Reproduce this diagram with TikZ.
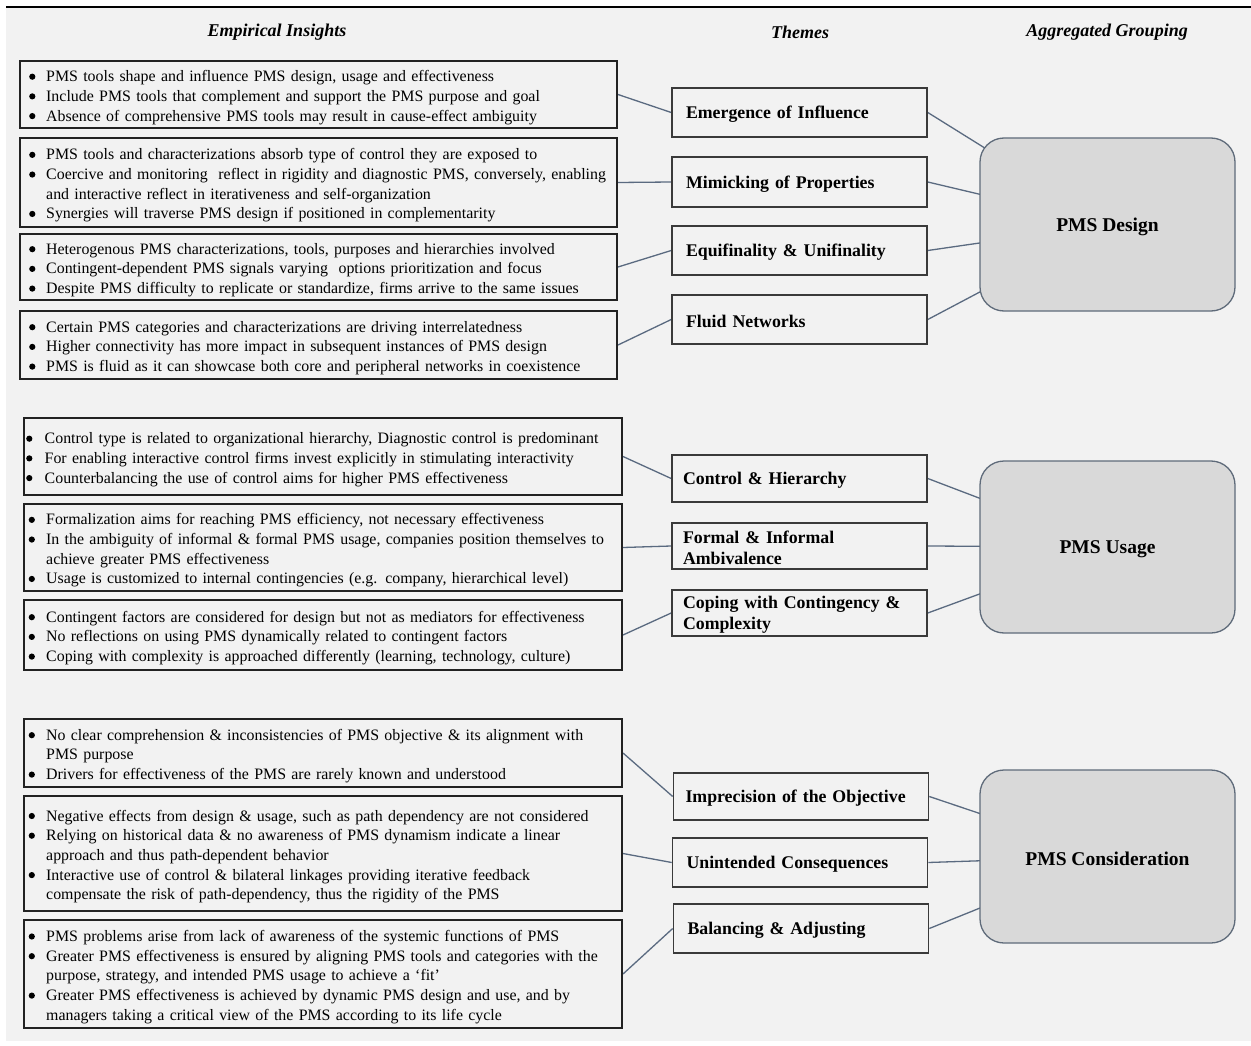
\documentclass[tikz,border=0pt]{standalone}
\usepackage{fontspec}
\setmainfont{Liberation Serif}

\definecolor{paper}{HTML}{F2F2F2}
\definecolor{groupfill}{HTML}{D9D9D9}
\definecolor{groupedge}{HTML}{5F6B7A}
\definecolor{linkcol}{HTML}{5A6A80}
\definecolor{themeedge}{HTML}{3A3A3A}
\definecolor{insightedge}{HTML}{222222}

\pgfdeclarelayer{paperlayer}
\pgfdeclarelayer{linklayer}
\pgfsetlayers{paperlayer,linklayer,main}

% bullet column width and bullet/continuation lines
\newlength\bw
\newcommand\bigdot{\tikz[x=1pt,y=1pt,baseline={(0pt,-5pt)}]\fill[black] (3.2pt,0pt) circle (3.1pt);}
\newcommand\bpt[1]{\par\noindent\strut\makebox[\bw][l]{\bigdot}#1}
\newcommand\cpt[1]{\par\noindent\strut\hspace*{\bw}#1}

\tikzset{
  insightbox/.style={draw=insightedge, line width=2pt, minimum width=597pt, inner sep=0pt},
  insightboxb/.style={draw=insightedge, line width=2pt, minimum width=598pt, inner sep=0pt},
  insighttext/.style={anchor=west, inner sep=0pt, text width=640pt, align=left,
    font=\fontsize{15.9}{19.7}\selectfont},
  themebox/.style={draw=themeedge, line width=1.6pt, minimum width=255pt,
    inner xsep=#1, inner ysep=0pt, text width=255pt-2*#1, align=left,
    font=\bfseries\fontsize{17.8}{20.8}\selectfont,
    execute at begin node={\rule{0pt}{16pt}}},
  themebox/.default=14pt,
  groupbox/.style={draw=groupedge, fill=groupfill, line width=1.3pt,
    rounded corners=24pt, minimum width=255pt, minimum height=173pt,
    font=\bfseries\fontsize{19.5}{22}\selectfont,
    execute at begin node={\rule{0pt}{18pt}}},
  hdr/.style={font=\bfseries\itshape\fontsize{18}{20}\selectfont, inner sep=0pt},
  link/.style={draw=linkcol, line width=1.3pt},
}

\begin{document}
\begin{tikzpicture}[x=1pt,y=-1pt]
\useasboundingbox (0,0) rectangle (1251,1046);

\begin{pgfonlayer}{paperlayer}
  \fill[paper] (6,8) rectangle (1251,1041);
  \draw[line width=2pt, black] (6,7) -- (1251,7);
\end{pgfonlayer}

% column headings
\node[hdr] (h1) at (277,32) {Empirical Insights};
\node[hdr] (h2) at (800,32) {Themes};
\node[hdr] (h3) at (1107,32) {Aggregated Grouping};

% ---------------- PMS Design ----------------
\node[insightbox, minimum height=67pt] (b1) at (318.5,94.5) {};
\node[insighttext] (b1t) at ([xshift=10pt]b1.west) {\setlength\bw{17pt}%
  \bpt{PMS tools shape and influence PMS design, usage and effectiveness}
  \bpt{Include PMS tools that complement and support the PMS purpose and goal}
  \bpt{Absence of comprehensive PMS tools may result in cause-effect ambiguity}};

\node[insightbox, minimum height=89pt] (b2) at (318.5,182.5) {};
\node[insighttext] (b2t) at ([xshift=10pt]b2.west) {\setlength\bw{17pt}%
  \bpt{PMS tools and characterizations absorb type of control they are exposed to}
  \bpt{Coercive and monitoring\ \ reflect in rigidity and diagnostic PMS, conversely, enabling}
  \cpt{and interactive reflect in iterativeness and self-organization}
  \bpt{Synergies will traverse PMS design if positioned in complementarity}};

\node[insightbox, minimum height=66pt] (b3) at (318.5,267) {};
\node[insighttext] (b3t) at ([xshift=10pt]b3.west) {\setlength\bw{17pt}%
  \bpt{Heterogenous PMS characterizations, tools, purposes and hierarchies involved}
  \bpt{Contingent-dependent PMS signals varying\ \ options prioritization and focus}
  \bpt{Despite PMS difficulty to replicate or standardize, firms arrive to the same issues}};

\node[insightbox, minimum height=68pt] (b4) at (318.5,345) {};
\node[insighttext] (b4t) at ([xshift=10pt]b4.west) {\setlength\bw{17pt}%
  \bpt{Certain PMS categories and characterizations are driving interrelatedness}
  \bpt{Higher connectivity has more impact in subsequent instances of PMS design}
  \bpt{PMS is fluid as it can showcase both core and peripheral networks in coexistence}};

\node[themebox, minimum height=49pt] (t1) at (799.5,112.5) {Emergence of Influence};
\node[themebox, minimum height=50pt] (t2) at (799.5,182) {Mimicking of Properties};
\node[themebox, minimum height=49pt] (t3) at (799.5,250.5) {Equifinality \& Unifinality};
\node[themebox, minimum height=49pt] (t4) at (799.5,319.5) {Fluid Networks};

\node[groupbox] (a1) at (1107.5,224.5) {PMS Design};

% ---------------- PMS Usage ----------------
\node[insightboxb, minimum height=77pt] (b5) at (323,456.5) {};
\node[insighttext] (b5t) at ([xshift=3pt]b5.west) {\setlength\bw{18.5pt}%
  \bpt{Control type is related to organizational hierarchy, Diagnostic control is predominant}
  \bpt{For enabling interactive control firms invest explicitly in stimulating interactivity}
  \bpt{Counterbalancing the use of control aims for higher PMS effectiveness}};

\node[insightboxb, minimum height=87pt] (b6) at (323,547.5) {};
\node[insighttext] (b6t) at ([xshift=5.5pt]b6.west) {\setlength\bw{17.5pt}%
  \bpt{Formalization aims for reaching PMS efficiency, not necessary effectiveness}
  \bpt{In the ambiguity of informal \& formal PMS usage, companies position themselves to}
  \cpt{achieve greater PMS effectiveness}
  \bpt{Usage is customized to internal contingencies (e.g. company, hierarchical level)}};

\node[insightboxb, minimum height=70pt] (b7) at (323,635) {};
\node[insighttext] (b7t) at ([xshift=5.5pt]b7.west) {\setlength\bw{17.5pt}%
  \bpt{Contingent factors are considered for design but not as mediators for effectiveness}
  \bpt{No reflections on using PMS dynamically related to contingent factors}
  \bpt{Coping with complexity is approached differently (learning, technology, culture)}};

\node[themebox=11pt, minimum height=47pt] (t5) at (799.5,478.5) {Control \& Hierarchy};
\node[themebox=11pt, minimum height=46pt] (t6) at (799.5,546) {Formal \& Informal\\Ambivalence};
\node[themebox=11pt, minimum height=46pt] (t7) at (799.5,613) {Coping with Contingency \&\\Complexity};

\node[groupbox, minimum height=172pt] (a2) at (1107.5,547) {PMS Usage};

% ---------------- PMS Consideration ----------------
\node[insightboxb, minimum height=68pt] (b8) at (323,753) {};
\node[insighttext] (b8t) at ([xshift=5.5pt]b8.west) {\setlength\bw{17.5pt}%
  \bpt{No clear comprehension \& inconsistencies of PMS objective \& its alignment with}
  \cpt{PMS purpose}
  \bpt{Drivers for effectiveness of the PMS are rarely known and understood}};

\node[insightboxb, minimum height=115pt] (b9) at (323,853.5) {};
\node[insighttext] (b9t) at ([xshift=5.5pt]b9.west) {\setlength\bw{17.5pt}%
  \bpt{Negative effects from design \& usage, such as path dependency are not considered}
  \bpt{Relying on historical data \& no awareness of PMS dynamism indicate a linear}
  \cpt{approach and thus path-dependent behavior}
  \bpt{Interactive use of control \& bilateral linkages providing iterative feedback}
  \cpt{compensate the risk of path-dependency, thus the rigidity of the PMS}};

\node[insightboxb, minimum height=108pt] (b10) at (323,974) {};
\node[insighttext] (b10t) at ([xshift=5.5pt]b10.west) {\setlength\bw{17.5pt}%
  \bpt{PMS problems arise from lack of awareness of the systemic functions of PMS}
  \bpt{Greater PMS effectiveness is ensured by aligning PMS tools and categories with the}
  \cpt{purpose, strategy, and intended PMS usage to achieve a ‘fit’}
  \bpt{Greater PMS effectiveness is achieved by dynamic PMS design and use, and by}
  \cpt{managers taking a critical view of the PMS according to its life cycle}};

\node[themebox=12pt, minimum height=47pt] (t8) at (801,796.5) {Imprecision of the Objective};
\node[themebox=14pt, minimum height=49pt] (t9) at (800,862.5) {Unintended Consequences};
\node[themebox=14pt, minimum height=49pt] (t10) at (801,928.5) {Balancing \& Adjusting};

\node[groupbox] (a3) at (1107.5,856.5) {PMS Consideration};

% ---------------- connectors ----------------
\begin{pgfonlayer}{linklayer}
  \foreach \b/\t in {b1/t1,b2/t2,b3/t3,b4/t4,b5/t5,b6/t6,b7/t7,b8/t8,b9/t9,b10/t10}
    \draw[link] (\b.east) -- (\t.west);
  \foreach \t/\a in {t1/a1,t2/a1,t3/a1,t4/a1,t5/a2,t6/a2,t7/a2,t8/a3,t9/a3,t10/a3}
    \draw[link] (\t.east) -- (\a.center);
\end{pgfonlayer}

\end{tikzpicture}
\end{document}
